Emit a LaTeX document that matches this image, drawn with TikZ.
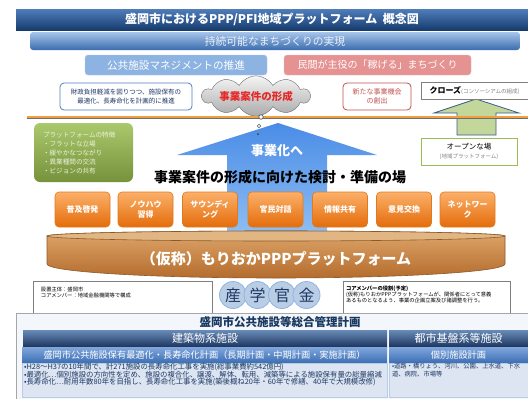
\documentclass[tikz,border=0pt]{standalone}
\usepackage{fontspec}
\setmainfont{Noto Sans CJK JP}
\usetikzlibrary{shapes.symbols}
\newcommand\fsz[2]{\fontsize{#1}{#2}\selectfont}
\definecolor{navy}{HTML}{1F3864}
\definecolor{navydk}{HTML}{17375E}
\definecolor{redtxt}{HTML}{C0504D}
\definecolor{orangeline}{HTML}{F2A03D}
\definecolor{woodedge}{HTML}{8B5A2B}
\definecolor{woodtop}{HTML}{DEA66A}
\definecolor{woodbot}{HTML}{B46C2D}
\definecolor{woodface}{HTML}{E2B682}
\definecolor{obtop}{HTML}{FBB06A}
\definecolor{obbot}{HTML}{E46C0A}
\definecolor{obdraw}{HTML}{E07A1F}
\definecolor{kfill}{HTML}{B9CDE5}
\definecolor{kdraw}{HTML}{8EB4E3}
\definecolor{hdrtop}{HTML}{6A8BB8}
\definecolor{hdrmid}{HTML}{2A4A7A}
\definecolor{hdrbot}{HTML}{1B355E}
\definecolor{rowtop}{HTML}{80A6DC}
\definecolor{rowbot}{HTML}{3C6EB4}
\definecolor{cfill}{HTML}{DCE5F1}
\definecolor{cdraw}{HTML}{B8CCE4}
\definecolor{ttop}{HTML}{4F7DBA}
\definecolor{tmid}{HTML}{1F4E8C}
\definecolor{tbot}{HTML}{163C6E}
\definecolor{gtop}{HTML}{A7C5EA}
\definecolor{gmid}{HTML}{5B8FD0}
\definecolor{gbot}{HTML}{3A6CAE}
\definecolor{gtext}{HTML}{EBF1FA}
\definecolor{pubfill}{HTML}{8DB3E2}
\definecolor{pubdraw}{HTML}{B4CCEC}
\definecolor{privfill}{HTML}{E59292}
\definecolor{privdraw}{HTML}{F0BEBE}
\definecolor{bluedraw}{HTML}{4F81BD}
\definecolor{clouddraw}{HTML}{6E6E6E}
\definecolor{cloudtop}{HTML}{F5F5F5}
\definecolor{cloudbot}{HTML}{AAAAAA}
\definecolor{cloudtext}{HTML}{E62828}
\definecolor{garrowdraw}{HTML}{3B5E8C}
\definecolor{garrowfill}{HTML}{C4D79B}
\definecolor{greybox}{HTML}{7F7F7F}
\definecolor{shadowline}{HTML}{6E6E6E}
\definecolor{arrtop}{HTML}{4A8CE6}
\definecolor{arrbot}{HTML}{8DBDF3}
\definecolor{markdraw}{HTML}{5A5A5A}
\definecolor{markdot}{HTML}{3C3C3C}
\definecolor{opendraw}{HTML}{9BBB59}
\definecolor{feattop}{HTML}{AAC86C}
\definecolor{featbot}{HTML}{76923C}
\definecolor{feattext}{HTML}{ECF3DE}
\definecolor{plandraw}{HTML}{A6A6A6}
\definecolor{planfill}{HTML}{F3F6FA}
\tikzset{
  every node/.style={inner sep=0pt, outer sep=0pt},
  obox/.style={rounded corners=4pt, minimum width=55pt, minimum height=35pt,
    top color=obtop, bottom color=obbot, draw=obdraw, line width=0.6pt, text=white, align=center,
    font=\fsz{8}{9.5}\bfseries},
  thinbox/.style={draw=#1, fill=white, line width=0.8pt},
  smalltxt/.style={font=\fsz{5.3}{6}, align=left, anchor=north west},
  kcircle/.style={circle, minimum size=27pt, fill=kfill, draw=kdraw, line width=0.8pt, text=navy, font=\fsz{16}{18}},
  hdr/.style={top color=hdrtop, middle color=hdrmid, bottom color=hdrbot, text=white, font=\fsz{11}{12}},
  rowhdr/.style={top color=rowtop, bottom color=rowbot, text=white, font=\fsz{9.2}{10}},
  content/.style={fill=cfill, draw=cdraw},
  ctext/.style={anchor=west, text=navy, font=\fsz{7.4}{8}},
}
\begin{document}
\begin{tikzpicture}[x=1pt,y=-1pt]
\useasboundingbox (0,0) rectangle (528,399);
\fill[white] (0,0) rectangle (528,399);

% title bars
\node[top color=ttop, middle color=tmid, bottom color=tbot, minimum width=512pt, minimum height=21pt, text=white,
  font=\fsz{12}{14}\bfseries] (title) at (272,19.5) {盛岡市におけるPPP/PFI地域プラットフォーム\ \ 概念図};
\node[rounded corners=3pt, top color=gtop, middle color=gmid, bottom color=gbot, minimum width=490pt, minimum height=18pt,
  text=gtext, font=\fsz{10.8}{12}] (goal) at (275,41) {持続可能なまちづくりの実現};

% two themes
\node[rounded corners=3pt, fill=pubfill, draw=pubdraw, minimum width=182pt, minimum height=20pt, text=white,
  font=\fsz{10.6}{12}] (pub) at (176,65) {公共施設マネジメントの推進};
\node[rounded corners=3pt, fill=privfill, draw=privdraw, minimum width=187pt, minimum height=20pt, text=white,
  font=\fsz{10}{12}] (priv) at (377.5,65) {民間が主役の「稼げる」まちづくり};

% detail boxes
\node[thinbox=bluedraw, rounded corners=4pt, minimum width=132pt, minimum height=27pt, text=navy, align=center,
  font=\fsz{6.5}{8.5}] (fin) at (126,96.5) {財政負担軽減を図りつつ、施設保有の\\最適化、長寿命化を計画的に推進};
\node[cloud, cloud puffs=10, cloud puff arc=120, aspect=4.5, minimum width=108pt, minimum height=25pt,
  draw=clouddraw, top color=cloudtop, bottom color=cloudbot, text=cloudtext, font=\fsz{10.5}{12}\bfseries]
  (cloud) at (256,96) {事業案件の形成};
\node[thinbox=redtxt, rounded corners=4pt, minimum width=68pt, minimum height=27pt, text=redtxt, align=center,
  font=\fsz{7}{9}] (newb) at (377,96.5) {新たな事業機会\\の創出};

% green arrow (close -> open)
\path[draw=garrowdraw, fill=garrowfill, line width=0.8pt]
  (434,113) -- (476,99) -- (519,113) -- (496,113) -- (496,135) -- (457,135) -- (457,113) -- cycle;
\node[thinbox=greybox, minimum width=107pt, minimum height=17pt, font=\fsz{8}{9}] (close) at (474.5,90.5)
  {\bfseries クローズ\mdseries\color{gray}\fsz{5.5}{6}(コンソーシアムの組成)};

% orange line
\coordinate (lineL) at (27,116.5);
\coordinate (lineR) at (528,116.5);
\draw[line width=0.9pt, shadowline] ([yshift=-1.8pt]lineL) -- ([yshift=-1.8pt]lineR);
\draw[line width=2pt, orangeline] (lineL) -- (lineR);

% big blue arrow
\path[top color=arrtop, bottom color=arrbot]
  (278,123) -- (377,155) -- (327,155) -- (327,232) -- (227,232) -- (227,155) -- (177,155) -- cycle;
\node[text=white, font=\fsz{13}{14}\bfseries] (biz) at (277,151) {事業化へ};

% markers
\node[circle, draw=markdraw, fill=white, line width=0.7pt, minimum size=4.5pt] (m1) at (261,117) {};
\node[circle, draw=markdraw, fill=white, line width=0.6pt, minimum size=3.5pt] (m2) at (259,126) {};
\node[circle, fill=markdot, minimum size=2pt] (m3) at (258,134) {};

% open place
\node[thinbox=opendraw, minimum width=96pt, minimum height=27pt, align=center, font=\fsz{7.5}{9}]
  (open) at (469,151.5) {オープンな場\\{\color{gray}\fsz{5.5}{7}(地域プラットフォーム)}};

% green feature box
\node[rounded corners=6pt, top color=feattop, bottom color=featbot,
  minimum width=99pt, minimum height=59pt, text width=81pt, align=left, text=feattext, font=\fsz{6.6}{9}] (feat) at (83.5,152.5)
  {プラットフォームの特徴\\・フラットな立場\\・緩やかなつながり\\・異業種間の交流\\・ビジョンの共有};

% heading
\node[font=\fsz{14}{16}\bfseries] (study) at (280,177) {事業案件の形成に向けた検討・準備の場};

% orange boxes
\node[obox] (b1) at (82.5,209.5) {普及啓発};
\node[obox] (b2) at (145.5,209.5) {ノウハウ\\習得};
\node[obox] (b3) at (210,209.5) {サウンディ\\ング};
\node[obox] (b4) at (275.5,209.5) {官民対話};
\node[obox] (b5) at (340,209.5) {情報共有};
\node[obox] (b6) at (404,209.5) {意見交換};
\node[obox] (b7) at (467.5,209.5) {ネットワー\\ク};

% wooden platform
\path[draw=woodedge, line width=0.6pt, top color=woodtop, bottom color=woodbot]
  (47,236) -- (47,264) arc[start angle=180, end angle=360, x radius=229pt, y radius=14pt]
  -- (505,236) arc[start angle=0, end angle=180, x radius=229pt, y radius=5pt] -- cycle;
\draw[woodedge, line width=0.6pt, fill=woodface] (276,236) ellipse [x radius=229pt, y radius=5pt];
\node[text=white, font=\fsz{15}{17}\bfseries] (plat) at (276,259) {（仮称）もりおかPPPプラットフォーム};

% info boxes
\node[thinbox=greybox, minimum width=179pt, minimum height=32pt] (setb) at (122.5,297) {};
\node[smalltxt] (settxt) at (41,287.5) {設置主体：盛岡市\\コアメンバー：地域金融機関等で構成};
\node[thinbox=greybox, minimum width=167pt, minimum height=32pt] (role) at (426.5,297) {};
\node[smalltxt] (roletxt) at (346,285.5) {{\bfseries コアメンバーの役割(予定)}\\(仮称)もりおかPPPプラットフォームが、関係者にとって意義\\あるものとなるよう、事業の企画立案及び諸調整を行う。};

% circles
\node[kcircle] (k1) at (233,295) {産};
\node[kcircle] (k2) at (257.5,295) {学};
\node[kcircle] (k3) at (282,295) {官};
\node[kcircle] (k4) at (306.5,295) {金};

% bottom plan
\node[draw=plandraw, fill=planfill, minimum width=512pt, minimum height=86pt] (plan) at (272,356) {};
\node[text=navydk, font=\fsz{11.5}{13}\bfseries] (plantitle) at (280,322.5) {盛岡市公共施設等総合管理計画};
\node[hdr, minimum width=364pt, minimum height=17pt] (h1) at (205,338.5) {建築物系施設};
\node[hdr, minimum width=139pt, minimum height=17pt] (h2) at (458.5,338.5) {都市基盤系等施設};
\node[rowhdr, minimum width=365pt, minimum height=16pt] (r1) at (204.5,355) {盛岡市公共施設保有最適化・長寿命化計画（長期計画・中期計画・実施計画）};
\node[rowhdr, minimum width=139pt, minimum height=16pt] (r2) at (458.5,355) {個別施設計画};
\node[content, minimum width=365pt, minimum height=34pt] (c1) at (204.5,380) {};
\node[content, minimum width=139pt, minimum height=34pt] (c2) at (458.5,380) {};
\node[ctext, text=navydk] (l1) at (24,367) {•H28～H37の10年間で、計271施設の長寿命化工事を実施(総事業費約542億円)};
\node[ctext] (l2) at (24,374.5) {•最適化…個別施設の方向性を定め、施設の複合化、譲渡、解体、転用、減築等による施設保有量の総量縮減};
\node[ctext] (l3) at (24,382) {•長寿命化…耐用年数80年を目指し、長寿命化工事を実施(築後概ね20年・60年で修繕、40年で大規模改修)};
\node[ctext, font=\fsz{6.3}{7.2}, align=left, anchor=north west] (rt) at (392,363.5) {•道路・橋りょう、河川、公園、上水道、下水\\道、病院、市場等};
\end{tikzpicture}
\end{document}
